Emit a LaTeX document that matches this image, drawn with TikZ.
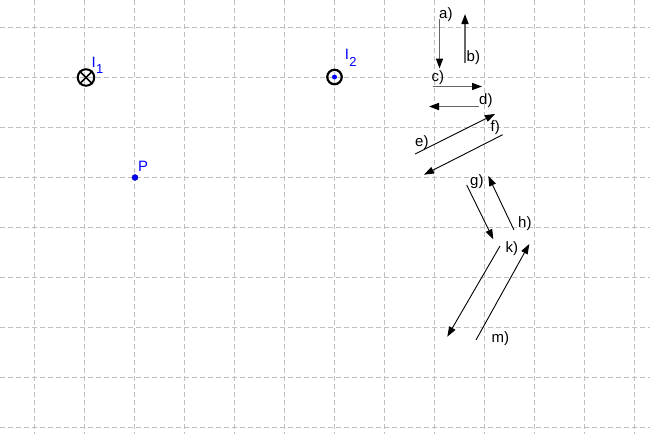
\documentclass[tikz,border=0pt]{standalone}
\usepackage{fontspec}
\setmainfont{Liberation Sans}
\usetikzlibrary{arrows.meta}
\begin{document}
\begin{tikzpicture}[x=1pt,y=-1pt,
  gridline/.style={draw=black!25, line width=0.8pt, dash pattern=on 5pt off 3pt},
  vec/.style={draw=black, line width=0.9pt, -{Triangle[length=10pt,width=7pt]}},
  vecg/.style={draw=black!60, line width=1.6pt, -{Triangle[length=10pt,width=7pt,color=black]}},
  lbl/.style={font=\fontsize{15}{15}\selectfont, inner sep=0pt, anchor=base west},
  blbl/.style={lbl, text=blue},
  subs/.style={font=\fontsize{13}{13}\selectfont, inner sep=0pt, anchor=base west, text=blue}]
\useasboundingbox (0,0) rectangle (650,434);
\fill[white] (0,0) rectangle (650,434);
% grid
\foreach \i in {0,...,12} {\draw[gridline] (34.5+50*\i,0) -- (34.5+50*\i,434);}
\foreach \j in {0,...,8} {\draw[gridline] (0,27+50*\j) -- (650,27+50*\j);}
% currents
\node[draw=black, line width=2pt, circle, minimum size=16.5pt, inner sep=0pt] (I1) at (86,77.5) {};
\draw[line width=1.6pt] (I1.north west) -- (I1.south east) (I1.north east) -- (I1.south west);
\node[draw=black, line width=2.2pt, circle, minimum size=14.5pt, inner sep=0pt] (I2) at (334.5,77) {};
\node[fill=blue, circle, minimum size=5pt, inner sep=0pt] (I2c) at (I2.center) {};
\node[fill=blue, draw=blue!60!black, circle, minimum size=6pt, inner sep=0pt] (P) at (135,177.5) {};
% labels of points
\node[blbl] (lI1) at (91.3,67) {I};
\node[subs] (lI1s) at (lI1.base east) [yshift=-6pt] {1};
\node[blbl] (lI2) at (344.6,59.3) {I};
\node[subs] (lI2s) at (lI2.base east) [yshift=-7pt] {2};
\node[blbl] (lP) at (138,171.7) {P};
% vector end points
\coordinate (a1) at (439.5,19);   \coordinate (a2) at (439.5,68.5);
\coordinate (b1) at (465,63);     \coordinate (b2) at (465,14);
\coordinate (c1) at (432.5,86.5); \coordinate (c2) at (482,86.5);
\coordinate (d1) at (479,106.5);  \coordinate (d2) at (429,106.5);
\coordinate (e1) at (415,154);    \coordinate (e2) at (495,114);
\coordinate (f1) at (502.7,134.7);\coordinate (f2) at (424,174.7);
\coordinate (g1) at (466.7,185);  \coordinate (g2) at (493.3,239.3);
\coordinate (h1) at (514,230);    \coordinate (h2) at (488.3,176);
\coordinate (k1) at (500,246);    \coordinate (k2) at (447.3,336.7);
\coordinate (m1) at (476,340);    \coordinate (m2) at (529.3,244);
\draw[vecg] (a1) -- (a2);
\draw[vecg] (b1) -- (b2);
\draw[vecg] (c1) -- (c2);
\draw[vecg] (d1) -- (d2);
\draw[vec] (e1) -- (e2);
\draw[vec] (f1) -- (f2);
\draw[vec] (g1) -- (g2);
\draw[vec] (h1) -- (h2);
\draw[vec] (k1) -- (k2);
\draw[vec] (m1) -- (m2);
% vector labels
\node[lbl] (la) at (439,18) {a)};
\node[lbl] (lb) at (466.5,61.5) {b)};
\node[lbl] (lc) at (431.5,81.5) {c)};
\node[lbl] (ld) at (479,104) {d)};
\node[lbl] (le) at (415,146.5) {e)};
\node[lbl] (lf) at (490.5,131.5) {f)};
\node[lbl] (lg) at (470,185) {g)};
\node[lbl] (lh) at (518,227) {h)};
\node[lbl] (lk) at (505.5,252) {k)};
\node[lbl] (lm) at (491.5,342.5) {m)};
\end{tikzpicture}
\end{document}
